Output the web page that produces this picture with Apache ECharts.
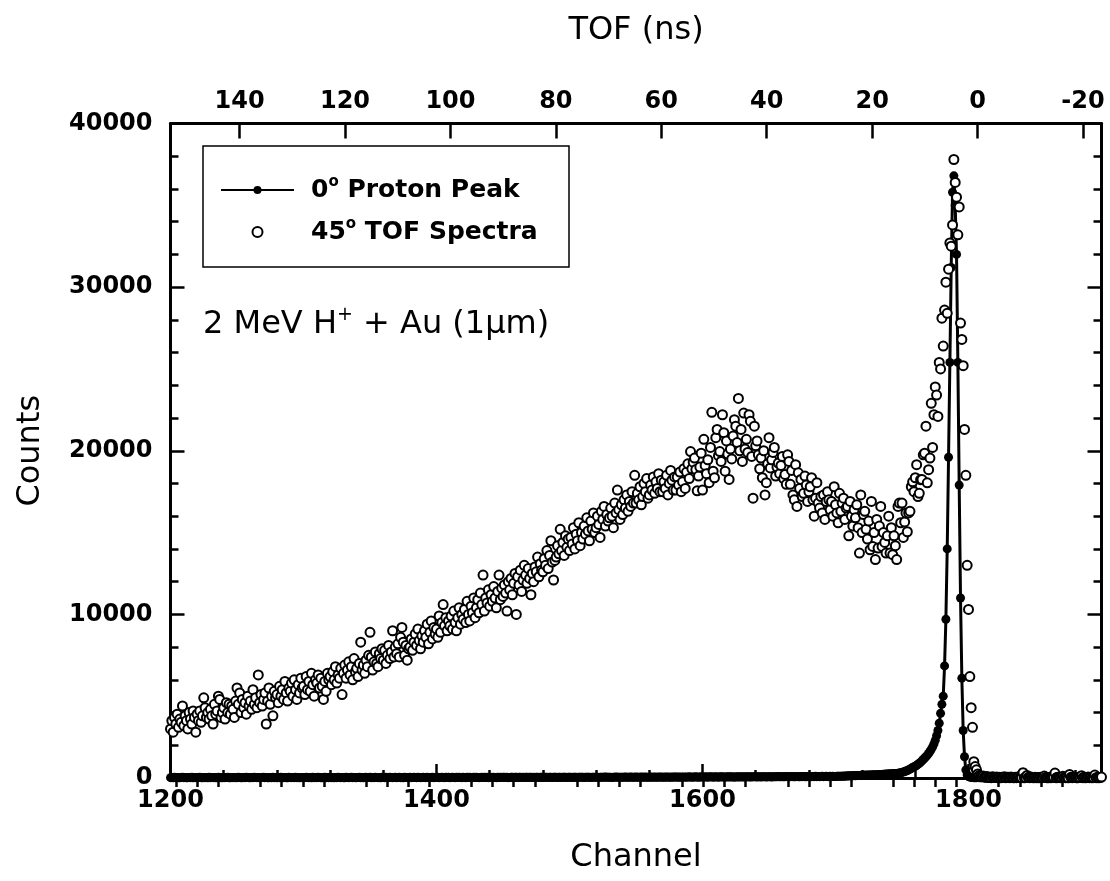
<!doctype html>
<html lang="en">
  <head>
    <meta charset="UTF-8" />
    <title>2 MeV H+ + Au TOF spectra</title>
    <script src="https://cdn.jsdelivr.net/npm/echarts/dist/echarts.min.js"></script>
    <style>
      html, body { margin: 0; padding: 0; background: #fff; }
      #main { width: 1110px; height: 881px; }
    </style>
  </head>
  <body>
    <div id="main"></div>
    <script>
      // channel numbers, one point per channel
      const channels = [];
      for (let c = 1200; c <= 1900; c++) channels.push(c);

      const channelTicks = [1200, 1400, 1600, 1800];
      const channelMinorTicks = [1240, 1280, 1320, 1360, 1440, 1480, 1520, 1560, 1640, 1680, 1720, 1760, 1840, 1880];
      const tofTicks = [140, 120, 100, 80, 60, 40, 20, 0, -20];
      const tofMinorTicks = [152, 148, 144, 136, 132, 128, 124, 116, 112, 108, 104, 96, 92, 88, 84,
        76, 72, 68, 64, 56, 52, 48, 44, 36, 32, 28, 24, 16, 12, 8, 4, -4, -8, -12, -16];
      // TOF range covered by the channel axis (1200 .. 1900)
      const tofMin = -23.5;
      const tofMax = 153.1;

      // 45° TOF spectra (open circles), channels 1200..1900
      const tofCounts = [
        3000, 3500, 2800, 3700, 3300, 3900, 3100, 3600, 3400, 4400,
        3200, 3800, 3500, 3000, 4000, 3600, 3300, 4100, 3700, 2800,
        3900, 3500, 4100, 3400, 3800, 4900, 4300, 3700, 4000, 3600,
        4200, 3800, 3300, 4500, 3900, 4100, 5000, 4800, 3700, 4000,
        4300, 3600, 4600, 4000, 4500, 3900, 4400, 4200, 3700, 4700,
        5500, 4500, 5200, 4000, 4800, 4300, 4600, 3900, 5000, 4400,
        4700, 4200, 5400, 4500, 4900, 4300, 6300, 4600, 5100, 4400,
        4800, 5200, 3300, 4700, 5500, 4500, 5000, 3800, 5300, 4900,
        5100, 4600, 5600, 5000, 5400, 4800, 5900, 5200, 4700, 5500,
        5300, 5800, 5000, 6000, 5400, 4800, 5700, 5200, 6100, 5500,
        5600, 5100, 6200, 5400, 5900, 5300, 6400, 5700, 5000, 6000,
        5800, 6300, 5500, 6100, 5600, 4800, 5900, 5300, 6400, 6000,
        6200, 5700, 6500, 6000, 6800, 5800, 6300, 6100, 6700, 5100,
        6400, 6900, 6100, 6600, 7100, 6300, 6800, 6000, 7300, 6500,
        6700, 6200, 7000, 8300, 6600, 6900, 6400, 7200, 6800, 7500,
        8900, 7400, 6600, 7100, 7700, 7000, 6800, 7600, 7300, 7900,
        7200, 7800, 7000, 7500, 8100, 7300, 7700, 9000, 7400, 8000,
        7600, 8200, 7400, 8600, 9200, 8300, 7500, 8100, 7200, 7900,
        8000, 8500, 7800, 8300, 8800, 8100, 9100, 8400, 7900, 8700,
        8300, 9000, 8600, 9400, 8200, 8900, 9600, 8500, 9200, 8800,
        9100, 8600, 9900, 8900, 9500, 10600, 9300, 9800, 9000, 9600,
        9300, 9900, 9100, 10200, 9500, 9000, 9800, 10400, 9400, 10000,
        9700, 10300, 9500, 10800, 10000, 9600, 10500, 10100, 11000, 9800,
        10400, 10900, 10100, 11300, 10600, 12400, 10200, 11000, 10700, 11500,
        10500, 11200, 10800, 11700, 11000, 10400, 11400, 12400, 10900, 11600,
        11100, 11800, 11300, 10200, 12000, 11500, 12200, 11200, 11900, 12500,
        10000, 12300, 11800, 12700, 11400, 12100, 13000, 12400, 11900, 12800,
        12200, 11200, 12500, 12000, 12900, 12600, 13500, 12300, 13100, 12700,
        12600, 13400, 13000, 13900, 12800, 13600, 14500, 13200, 12100, 13300,
        13500, 14200, 13700, 15200, 13900, 14400, 13600, 14800, 14100, 14600,
        13900, 14700, 14300, 15300, 14000, 14900, 14500, 15600, 14200, 15000,
        14600, 15400, 14900, 15900, 15100, 14500, 15700, 15200, 16200, 15000,
        15300, 16000, 15500, 14700, 16300, 15800, 16600, 15400, 16100, 15700,
        15900, 16500, 16000, 15300, 16800, 16200, 17600, 16400, 15800, 16700,
        16100, 17000, 16500, 17300, 16300, 16900, 16600, 17500, 16800, 18500,
        16800, 17400, 17000, 17800, 16700, 17200, 18000, 17500, 18300, 17100,
        17300, 17900, 17600, 18400, 17400, 18100, 17700, 18600, 17500, 18200,
        17500, 18100, 17700, 18500, 17300, 18000, 18800, 18200, 17600, 18400,
        17600, 18400, 17900, 18700, 17500, 18100, 18900, 17700, 18700, 19200,
        18300, 19950, 18900, 19300, 19550, 18850, 17550, 18450, 19000, 19850,
        17600, 20700, 19100, 18600, 19450, 18050, 20200, 22350, 18750, 18350,
        20800, 21300, 19700, 19950, 19350, 22200, 21100, 18750, 20600, 19800,
        18250, 20100, 19500, 20900, 21900, 21500, 20500, 23200, 20000, 21300,
        19350, 22300, 20100, 20700, 19900, 22200, 21800, 19650, 17100, 21500,
        20300, 20600, 19750, 18900, 19550, 18350, 20000, 17300, 18050, 19200,
        20800, 18950, 19450, 19900, 20200, 18450, 19000, 19250, 18600, 19100,
        19650, 18300, 18550, 17950, 19750, 19350, 17950, 18800, 17300, 17000,
        19150, 16600, 18650, 17700, 18250, 17200, 17400, 18450, 17900, 16900,
        17500, 17800, 18350, 17000, 16000, 17100, 18050, 16800, 16500, 17200,
        16200, 17300, 15800, 16900, 17500, 17000, 16400, 16900, 16000, 17800,
        16700, 16200, 15600, 17400, 16300, 16800, 17100, 15800, 16500, 16600,
        14800, 16900, 16000, 15400, 16400, 15900, 16700, 15300, 13750, 17300,
        15000, 16100, 16300, 15200, 14600, 15700, 13950, 16900, 14150, 15000,
        13350, 15800, 14050, 15400, 16600, 14150, 15000, 14400, 13750, 14800,
        16000, 13750, 15300, 13650, 14800, 14200, 13350, 16600, 16800, 15600,
        16800, 14700, 15650, 16200, 15050, 16200, 16300, 17800, 18100, 17500,
        18350, 19150, 17200, 17400, 18230, 18250, 19750, 19850, 21500, 18040,
        18840, 19550, 22900, 20200, 22200, 23900, 23400, 22100, 25400, 25000,
        28100, 26400, 28600, 30300, 28400, 31100, 32700, 32500, 33800, 37800,
        36400, 35500, 33200, 34900, 27800, 26800, 25200, 21300, 18500, 13000,
        10300, 6200, 4300, 3100, 1000, 700, 500, 250, 150, 100,
        80, 120, 60, 40, 90, 30, 50, 20, 70, 40,
        30, 60, 20, 50, 10, 40, 30, 70, 20, 50,
        40, 20, 60, 30, 10, 50, 20, 40, 90, 30,
        20, 320, 10, 30, 160, 40, 20, 60, 30, 10,
        40, 20, 30, 10, 50, 20, 40, 120, 30, 20,
        10, 40, 20, 30, 60, 300, 10, 50, 30, 20,
        40, 100, 30, 20, 60, 10, 220, 40, 20, 30,
        50, 20, 10, 40, 30, 140, 20, 50, 10, 30,
        60, 20, 40, 10, 30, 180, 20, 40, 10, 30,
        60
      ];

      // 0° proton peak (filled circles + line), channels 1200..1900
      const peakCounts = [
        20, 30, 10, 40, 20, 30, 20, 10, 30, 40, 20, 30, 10, 20, 30, 20, 40, 10, 30, 20,
        30, 20, 40, 20, 10, 30, 20, 30, 10, 40, 20, 30, 20, 30, 10, 20, 40, 30, 20, 10,
        30, 20, 30, 40, 20, 10, 30, 20, 30, 20, 20, 40, 30, 10, 20, 30, 20, 40, 30, 20,
        10, 30, 20, 40, 30, 20, 30, 10, 20, 30, 40, 20, 30, 20, 10, 30, 20, 40, 20, 30,
        10, 30, 20, 40, 30, 20, 30, 20, 10, 40, 30, 20, 30, 20, 40, 20, 30, 10, 30, 20,
        30, 20, 40, 30, 20, 30, 10, 40, 20, 30, 20, 40, 30, 20, 10, 30, 40, 20, 30, 20,
        40, 20, 30, 10, 30, 20, 40, 30, 20, 30, 20, 10, 40, 30, 20, 30, 40, 20, 30, 20,
        20, 30, 40, 20, 30, 10, 30, 40, 20, 30, 40, 20, 30, 20, 40, 30, 20, 30, 10, 40,
        30, 20, 40, 30, 20, 40, 30, 20, 30, 40, 20, 30, 40, 20, 30, 10, 40, 30, 20, 30,
        40, 20, 30, 40, 30, 20, 40, 30, 20, 30, 40, 30, 20, 40, 30, 20, 30, 40, 20, 30,
        30, 40, 20, 30, 40, 30, 20, 40, 30, 40, 20, 30, 40, 30, 20, 40, 30, 40, 30, 20,
        40, 30, 20, 40, 30, 40, 30, 20, 40, 30, 40, 30, 20, 30, 40, 30, 50, 30, 40, 20,
        30, 40, 30, 50, 30, 20, 40, 30, 40, 30, 50, 40, 30, 40, 20, 30, 40, 50, 30, 40,
        40, 30, 50, 40, 30, 40, 30, 50, 40, 30, 40, 50, 30, 40, 30, 50, 40, 30, 40, 50,
        30, 40, 50, 40, 30, 50, 40, 30, 40, 50, 40, 30, 50, 40, 30, 40, 50, 40, 30, 50,
        40, 50, 30, 40, 50, 40, 30, 50, 40, 50, 40, 30, 50, 40, 50, 40, 30, 50, 40, 50,
        50, 40, 30, 50, 40, 50, 40, 60, 40, 50, 40, 50, 30, 50, 40, 60, 50, 40, 50, 40,
        50, 40, 60, 50, 40, 50, 60, 40, 50, 40, 60, 50, 40, 50, 60, 50, 40, 60, 50, 40,
        50, 60, 40, 50, 60, 50, 40, 60, 50, 60, 50, 40, 60, 50, 60, 50, 40, 60, 50, 60,
        60, 50, 60, 40, 60, 50, 60, 50, 60, 50, 70, 50, 60, 50, 60, 70, 50, 60, 50, 70,
        60, 50, 70, 60, 50, 70, 60, 70, 50, 60, 70, 60, 50, 70, 60, 70, 60, 50, 70, 60,
        70, 60, 70, 60, 50, 70, 60, 70, 60, 80, 60, 70, 60, 70, 80, 60, 70, 60, 80, 70,
        70, 60, 80, 70, 60, 80, 70, 80, 60, 70, 80, 70, 60, 80, 70, 80, 70, 90, 70, 80,
        80, 70, 80, 90, 70, 80, 70, 90, 80, 70, 80, 90, 80, 70, 90, 80, 90, 80, 70, 90,
        80, 90, 80, 90, 80, 100, 80, 90, 80, 90, 100, 80, 90, 100, 90, 80, 100, 90, 100, 90,
        90, 100, 100, 110, 100, 110, 120, 110, 120, 130, 120, 130, 140, 130, 150, 140, 150, 160, 150, 170,
        160, 170, 180, 170, 190, 180, 190, 190, 200, 200, 190, 200, 210, 200, 210, 220, 230, 230, 240, 240,
        250, 255, 260, 265, 270, 275, 280, 290, 300, 320, 340, 370, 400, 430, 460, 500, 540, 590, 640, 690,
        720, 780, 840, 900, 970, 1050, 1130, 1220, 1300, 1400, 1500, 1620, 1750, 1900, 2080, 2300, 2580, 2900, 3350, 3950,
        4500, 5000, 6850, 9700, 14000, 19600, 25400, 31200, 35800, 36800, 35000, 32000, 25400, 17900, 11000, 6100, 2900, 1300, 500, 200,
        90, 50, 40, 30, 20, 10, 20, 30, 20, 10, 20, 30, 20, 10, 30, 20, 10, 20, 30, 20,
        10, 20, 30, 20, 10, 20, 30, 10, 20, 30, 20, 10, 20, 30, 20, 10, 30, 20, 10, 20,
        30, 20, 10, 20, 30, 20, 10, 30, 20, 10, 20, 30, 10, 20, 30, 20, 10, 20, 30, 20,
        10, 20, 30, 20, 10, 30, 20, 10, 20, 30, 20, 10, 30, 20, 10, 20, 30, 20, 10, 20,
        30, 20, 10, 20, 30, 10, 20, 30, 20, 10, 20, 30, 20, 10, 30, 20, 10, 20, 30, 20,
        20
      ];

      const FONT = "DejaVu Sans";
      const black = "#000";
      const tickLine = { color: black, width: 2.5 };
      const frameLine = { show: true, onZero: false, lineStyle: { color: black, width: 3 } };
      const tickLabel = {
        color: black,
        fontFamily: FONT,
        fontWeight: "bold",
        fontSize: 24,
        formatter: (v) => String(v),
      };
      const nameStyle = { color: black, fontFamily: FONT, fontSize: 32 };

      const myChart = echarts.init(document.getElementById("main"));

      const option = {
        animation: false,
        backgroundColor: "#fff",
        grid: {
          left: 170.5,
          right: 8.5,
          top: 123.5,
          bottom: 103,
          outerBoundsMode: "none",
        },
        legend: {
          orient: "vertical",
          left: 220,
          top: 175,
          padding: 0,
          itemGap: 12,
          itemWidth: 73,
          itemHeight: 10,
          selectedMode: false,
          data: ["0° Proton Peak", "45° TOF Spectra"],
          formatter: (name) => name.replace("°", "{sup|o}"),
          textStyle: {
            color: black,
            fontFamily: FONT,
            fontWeight: "bold",
            fontSize: 25,
            lineHeight: 30,
            padding: [0, 0, 0, 12],
            rich: {
              sup: { fontFamily: FONT, fontWeight: "bold", fontSize: 15, lineHeight: 14, verticalAlign: "top" },
            },
          },
        },
        xAxis: [
          {
            type: "value",
            position: "bottom",
            min: 1200,
            max: 1900,
            axisLine: frameLine,
            axisTick: { inside: true, length: 14, customValues: channelTicks, lineStyle: tickLine },
            axisLabel: Object.assign({ customValues: channelTicks, margin: 11 }, tickLabel),
            splitLine: { show: false },
            name: "Channel",
            nameLocation: "middle",
            nameGap: 64,
            nameTextStyle: nameStyle,
          },
          {
            // minor ticks of the channel axis
            type: "value",
            position: "bottom",
            min: 1200,
            max: 1900,
            axisLine: { show: false },
            axisTick: { inside: true, length: 8, customValues: channelMinorTicks, lineStyle: tickLine },
            axisLabel: { show: false },
            splitLine: { show: false },
          },
          {
            type: "value",
            position: "top",
            min: tofMin,
            max: tofMax,
            inverse: true,
            axisLine: frameLine,
            axisTick: { inside: true, length: 15, customValues: tofTicks, lineStyle: tickLine },
            axisLabel: Object.assign({ customValues: tofTicks, margin: 10 }, tickLabel),
            splitLine: { show: false },
            name: "TOF (ns)",
            nameLocation: "middle",
            nameGap: 77,
            nameTextStyle: nameStyle,
          },
          {
            // minor ticks of the TOF axis
            type: "value",
            position: "top",
            min: tofMin,
            max: tofMax,
            inverse: true,
            axisLine: { show: false },
            axisTick: { inside: true, length: 9, customValues: tofMinorTicks, lineStyle: tickLine },
            axisLabel: { show: false },
            splitLine: { show: false },
          },
        ],
        yAxis: [
          {
            type: "value",
            position: "left",
            min: 0,
            max: 40000,
            interval: 10000,
            axisLine: frameLine,
            axisTick: { inside: true, length: 14, lineStyle: tickLine },
            minorTick: { show: true, splitNumber: 5, length: 8, lineStyle: tickLine },
            axisLabel: Object.assign({ margin: 18 }, tickLabel),
            splitLine: { show: false },
            minorSplitLine: { show: false },
            name: "Counts",
            nameLocation: "middle",
            nameGap: 124,
            nameTextStyle: nameStyle,
          },
          {
            type: "value",
            position: "right",
            min: 0,
            max: 40000,
            interval: 10000,
            axisLine: frameLine,
            axisTick: { inside: true, length: 14, lineStyle: tickLine },
            minorTick: { show: true, splitNumber: 5, length: 8, lineStyle: tickLine },
            axisLabel: { show: false },
            splitLine: { show: false },
            minorSplitLine: { show: false },
          },
        ],
        graphic: [
          {
            type: "rect",
            shape: { x: 203, y: 146, width: 366, height: 121 },
            style: { fill: "transparent", stroke: black, lineWidth: 1.5 },
            z: 10,
          },
          {
            type: "text",
            x: 203,
            y: 325,
            style: {
              text: "2 MeV H{sup|+} + Au (1μm)",
              fontFamily: FONT,
              fontSize: 32,
              lineHeight: 38,
              fill: black,
              verticalAlign: "middle",
              rich: {
                sup: { fontFamily: FONT, fontSize: 19, lineHeight: 18, verticalAlign: "top" },
              },
            },
            z: 10,
          },
        ],
        series: [
          {
            name: "0° Proton Peak",
            type: "line",
            xAxisIndex: 0,
            yAxisIndex: 0,
            data: channels.map((c, i) => [c, peakCounts[i]]),
            symbol: "circle",
            symbolSize: 9,
            showSymbol: true,
            showAllSymbol: true,
            itemStyle: { color: black },
            lineStyle: { color: black, width: 3 },
            z: 2,
          },
          {
            name: "45° TOF Spectra",
            type: "scatter",
            xAxisIndex: 0,
            yAxisIndex: 0,
            data: channels.map((c, i) => [c, tofCounts[i]]),
            symbol: "circle",
            symbolSize: 9,
            itemStyle: { color: "#fff", borderColor: black, borderWidth: 2, opacity: 1 },
            z: 3,
          },
        ],
      };

      myChart.setOption(option);
    </script>
  </body>
</html>
